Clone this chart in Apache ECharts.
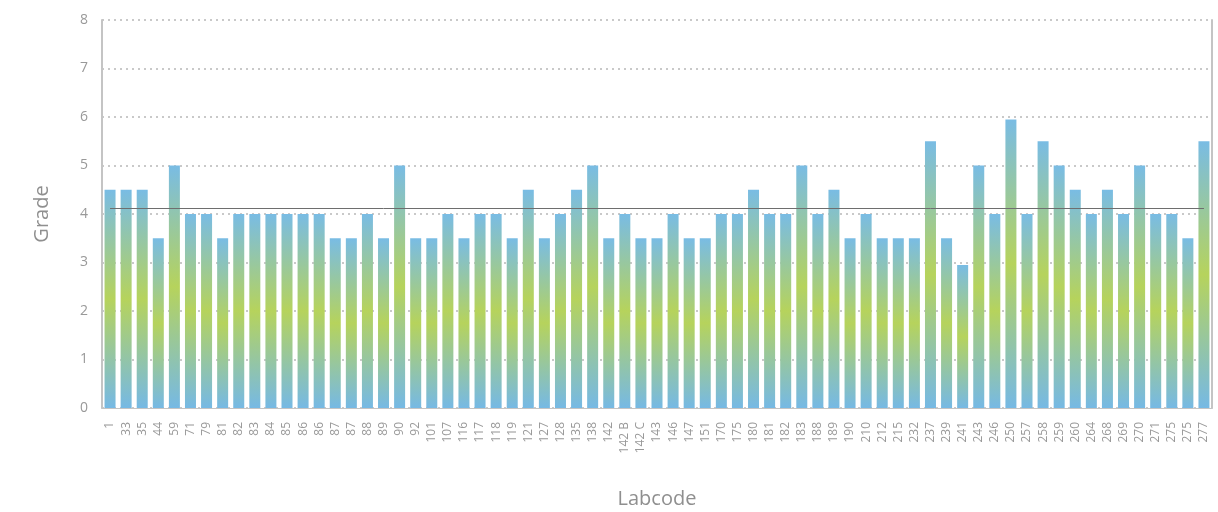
<!DOCTYPE html>
<html>
<head>
<meta charset="utf-8">
<script src="https://cdn.jsdelivr.net/npm/echarts@6/dist/echarts.min.js"></script>
<style>
html,body{margin:0;padding:0;background:#fff;}
#chart{width:1218px;height:512px;}
</style>
</head>
<body>
<div id="chart"></div>
<script>
const categories = ["1","33","35","44","59","71","79","81","82","83","84","85","86","86","87","87","88","89","90","92","101","107","116","117","118","119","121","127","128","135","138","142","142 B","142 C","143","146","147","151","170","175","180","181","182","183","188","189","190","210","212","215","232","237","239","241","243","246","250","257","258","259","260","264","268","269","270","271","275","275","277"];
const grades = [4.5,4.5,4.5,3.5,5,4,4,3.5,4,4,4,4,4,4,3.5,3.5,4,3.5,5,3.5,3.5,4,3.5,4,4,3.5,4.5,3.5,4,4.5,5,3.5,4,3.5,3.5,4,3.5,3.5,4,4,4.5,4,4,5,4,4.5,3.5,4,3.5,3.5,3.5,5.5,3.5,2.95,5,4,5.95,4,5.5,5,4.5,4,4.5,4,5,4,4,3.5,5.5];
const meanLine = 4.12;
const yTicks = [0,1,2,3,4,5,6,7,8];

const FONT = '"Open Sans", sans-serif';
const chart = echarts.init(document.getElementById('chart'));
chart.setOption({
  animation: false,
  grid: {left: 102, right: 6, top: 20, bottom: 104, containLabel: false, outerBoundsMode: 'none'},
  xAxis: {
    type: 'category',
    data: categories,
    name: 'Labcode',
    nameLocation: 'middle',
    nameGap: 81,
    nameTextStyle: {color: '#8f8f8f', fontSize: 20, fontFamily: FONT},
    axisLine: {lineStyle: {color: '#c4c4c4', width: 1}},
    axisTick: {interval: 0, length: 10, lineStyle: {color: '#c4c4c4'}},
    axisLabel: {interval: 0, rotate: 90, color: '#999999', fontSize: 12, fontFamily: FONT, margin: 14}
  },
  yAxis: [{
    type: 'value',
    min: yTicks[0],
    max: yTicks[yTicks.length-1],
    interval: 1,
    name: 'Grade',
    nameLocation: 'middle',
    nameGap: 50,
    nameTextStyle: {color: '#8f8f8f', fontSize: 20, fontFamily: FONT},
    axisLine: {show: true, lineStyle: {color: '#c4c4c4', width: 2}},
    axisTick: {show: false},
    axisLabel: {color: '#999999', fontSize: 14, fontFamily: FONT, margin: 14},
    splitLine: {lineStyle: {color: '#b8b8b8', type: [2, 4], width: 1.5}}
  }, {
    type: 'value',
    min: yTicks[0],
    max: yTicks[yTicks.length-1],
    interval: 1,
    position: 'right',
    axisLine: {show: true, lineStyle: {color: '#c4c4c4', width: 2}},
    axisTick: {show: false},
    axisLabel: {show: false},
    splitLine: {show: false}
  }],
  series: [{
    type: 'bar',
    data: grades,
    barWidth: 11,
    itemStyle: {
      color: new echarts.graphic.LinearGradient(0, 0, 0, 1, [
        {offset: 0, color: '#79bce4'},
        {offset: 0.5, color: '#b6d35c'},
        {offset: 1, color: '#76b9e4'}
      ])
    },
    markLine: {
      silent: true,
      symbol: ['none', 'none'],
      label: {show: false},
      lineStyle: {color: '#6e6e6e', width: 1, type: 'solid'},
      data: [[{coord: [0, meanLine]}, {coord: [categories.length - 1, meanLine]}]]
    }
  }]
});
</script>
</body>
</html>
